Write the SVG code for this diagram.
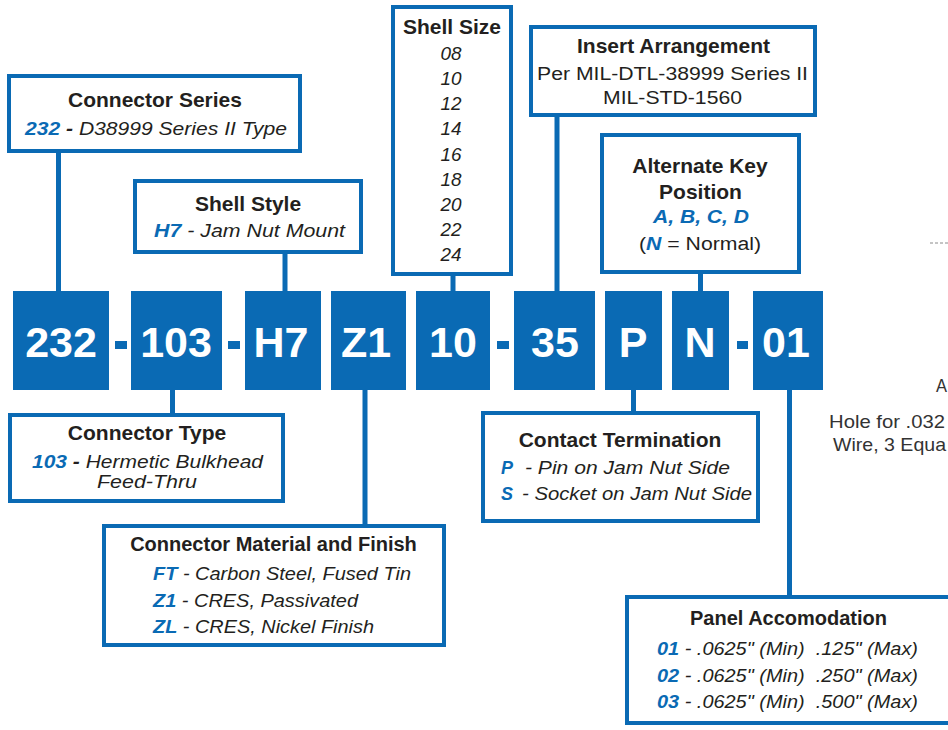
<svg xmlns="http://www.w3.org/2000/svg" width="948" height="730" viewBox="0 0 948 730">
<style>
.t{font-family:"Liberation Sans",Arial,Helvetica,sans-serif;fill:#231f20}
.h{font-weight:bold;font-size:21px;text-anchor:middle}
.h20{font-size:20px}
.i{font-style:italic;font-size:18px}
.r{font-size:18px}
.bl{fill:#0a6ab4;font-weight:bold;font-style:italic}
.bd{font-weight:bold}
.box{fill:#ffffff;stroke:#0a6ab4;stroke-width:4}
.code{fill:#0a6ab4}
.ct{font-family:"Liberation Sans",Arial,Helvetica,sans-serif;fill:#ffffff;font-weight:bold;font-size:43px;text-anchor:middle}
.ln{stroke:#0a6ab4;stroke-width:5;fill:none}
.pre{white-space:pre}
.side{font-family:"Liberation Sans",Arial,Helvetica,sans-serif;fill:#333333;font-size:18.5px}
</style>
<rect width="948" height="730" fill="#ffffff"/>

<g id="connectors">
<line class="ln" x1="58.5" y1="152" x2="58.5" y2="292"/>
<line class="ln" x1="285" y1="253" x2="285" y2="292"/>
<line class="ln" x1="453" y1="275" x2="453" y2="292"/>
<line class="ln" x1="557" y1="116" x2="557" y2="292"/>
<line class="ln" x1="700.5" y1="273" x2="700.5" y2="292"/>
<line class="ln" x1="172.5" y1="389" x2="172.5" y2="414"/>
<line class="ln" x1="365" y1="389" x2="365" y2="525"/>
<line class="ln" x1="633.5" y1="389" x2="633.5" y2="412"/>
<line class="ln" x1="789.5" y1="389" x2="789.5" y2="598"/>
</g>

<g id="code">
<rect class="code" x="13" y="291" width="96" height="99"/>
<text class="ct" x="61" y="357">232</text>
<rect class="code" x="115" y="341" width="12" height="8"/>
<rect class="code" x="131" y="291" width="91" height="99"/>
<text class="ct" x="176" y="357">103</text>
<rect class="code" x="228" y="341" width="12" height="8"/>
<rect class="code" x="245" y="291" width="76" height="99"/>
<text class="ct" x="281" y="357">H7</text>
<rect class="code" x="331" y="291" width="75" height="99"/>
<text class="ct" x="366" y="357">Z1</text>
<rect class="code" x="416" y="291" width="74" height="99"/>
<text class="ct" x="453" y="357">10</text>
<rect class="code" x="497" y="341" width="12" height="8"/>
<rect class="code" x="514" y="291" width="81" height="99"/>
<text class="ct" x="555" y="357">35</text>
<rect class="code" x="605" y="291" width="57" height="99"/>
<text class="ct" x="633" y="357">P</text>
<rect class="code" x="672" y="291" width="57" height="99"/>
<text class="ct" x="700" y="357">N</text>
<rect class="code" x="737" y="341" width="11" height="8"/>
<rect class="code" x="753" y="291" width="70" height="99"/>
<text class="ct" x="786" y="357">01</text>
</g>

<g id="connector-series">
<rect class="box" x="9" y="76" width="291" height="75"/>
<text class="t h" x="155" y="107">Connector Series</text>
<text class="t i" x="25" y="135" textLength="262" lengthAdjust="spacingAndGlyphs"><tspan class="bl">232</tspan><tspan class="bd"> - </tspan>D38999 Series II Type</text>
</g>

<g id="shell-style">
<rect class="box" x="135" y="181" width="226" height="71"/>
<text class="t h" x="248" y="211">Shell Style</text>
<text class="t i" x="154" y="237" textLength="191" lengthAdjust="spacingAndGlyphs"><tspan class="bl">H7</tspan> - Jam Nut Mount</text>
</g>

<g id="shell-size">
<rect class="box" x="393" y="7" width="118" height="267"/>
<text class="t h" x="452" y="34">Shell Size</text>
<g class="t i" text-anchor="middle">
<text x="451" y="60" textLength="21" lengthAdjust="spacingAndGlyphs">08</text>
<text x="451" y="85" textLength="21" lengthAdjust="spacingAndGlyphs">10</text>
<text x="451" y="110" textLength="21" lengthAdjust="spacingAndGlyphs">12</text>
<text x="451" y="135" textLength="21" lengthAdjust="spacingAndGlyphs">14</text>
<text x="451" y="161" textLength="21" lengthAdjust="spacingAndGlyphs">16</text>
<text x="451" y="186" textLength="21" lengthAdjust="spacingAndGlyphs">18</text>
<text x="451" y="211" textLength="21" lengthAdjust="spacingAndGlyphs">20</text>
<text x="451" y="236" textLength="21" lengthAdjust="spacingAndGlyphs">22</text>
<text x="451" y="261" textLength="21" lengthAdjust="spacingAndGlyphs">24</text>
</g>
</g>

<g id="insert-arrangement">
<rect class="box" x="531" y="27" width="284" height="88"/>
<text class="t h" x="673.5" y="53">Insert Arrangement</text>
<text class="t r" x="537" y="80" textLength="271" lengthAdjust="spacingAndGlyphs">Per MIL-DTL-38999 Series II</text>
<text class="t r" x="603" y="104" textLength="139" lengthAdjust="spacingAndGlyphs">MIL-STD-1560</text>
</g>

<g id="alternate-key">
<rect class="box" x="602" y="135" width="197" height="137"/>
<text class="t h" x="700" y="173">Alternate Key</text>
<text class="t h" x="700.5" y="199">Position</text>
<text class="t i bl" x="653" y="223" textLength="96" lengthAdjust="spacingAndGlyphs">A, B, C, D</text>
<text class="t r" x="639" y="250" textLength="122" lengthAdjust="spacingAndGlyphs">(<tspan class="bl">N</tspan> = Normal)</text>
</g>

<g id="connector-type">
<rect class="box" x="10" y="415" width="273" height="86"/>
<text class="t h" x="147" y="440">Connector Type</text>
<text class="t i" x="32" y="468" textLength="231" lengthAdjust="spacingAndGlyphs"><tspan class="bl">103</tspan><tspan class="bd"> - </tspan>Hermetic Bulkhead</text>
<text class="t i" x="97" y="488" textLength="100" lengthAdjust="spacingAndGlyphs">Feed-Thru</text>
</g>

<g id="material-finish">
<rect class="box" x="104" y="526" width="340" height="119"/>
<text class="t h h20" x="273.5" y="551">Connector Material and Finish</text>
<text class="t i" x="153" y="580" textLength="258" lengthAdjust="spacingAndGlyphs"><tspan class="bl">FT</tspan> - Carbon Steel, Fused Tin</text>
<text class="t i" x="153" y="607" textLength="205" lengthAdjust="spacingAndGlyphs"><tspan class="bl">Z1</tspan> - CRES, Passivated</text>
<text class="t i" x="153" y="633" textLength="221" lengthAdjust="spacingAndGlyphs"><tspan class="bl">ZL</tspan> - CRES, Nickel Finish</text>
</g>

<g id="contact-termination">
<rect class="box" x="483" y="413" width="275" height="108"/>
<text class="t h" x="620" y="447">Contact Termination</text>
<text class="t i bl" x="501" y="474">P</text>
<text class="t i" x="525" y="474" textLength="205" lengthAdjust="spacingAndGlyphs">- Pin on Jam Nut Side</text>
<text class="t i bl" x="501" y="500">S</text>
<text class="t i" x="522" y="500" textLength="230" lengthAdjust="spacingAndGlyphs">- Socket on Jam Nut Side</text>
</g>

<g id="panel-accomodation">
<rect class="box" x="627" y="597" width="340" height="126"/>
<text class="t h h20" x="788.5" y="625">Panel Accomodation</text>
<text class="t i pre" x="657" y="655" textLength="261" lengthAdjust="spacingAndGlyphs"><tspan class="bl">01</tspan> - .0625" (Min)  .125" (Max)</text>
<text class="t i pre" x="657" y="682" textLength="261" lengthAdjust="spacingAndGlyphs"><tspan class="bl">02</tspan> - .0625" (Min)  .250" (Max)</text>
<text class="t i pre" x="657" y="708" textLength="261" lengthAdjust="spacingAndGlyphs"><tspan class="bl">03</tspan> - .0625" (Min)  .500" (Max)</text>
</g>

<g id="edge-fragment">
<line x1="930" y1="243" x2="948" y2="243" stroke="#8a8a8a" stroke-width="1" stroke-dasharray="3 2"/>
<text class="side" x="936" y="392" textLength="11" lengthAdjust="spacingAndGlyphs">A</text>
<text class="side" x="829" y="428" textLength="116" lengthAdjust="spacingAndGlyphs">Hole for .032</text>
<text class="side" x="833" y="451" textLength="113" lengthAdjust="spacingAndGlyphs">Wire, 3 Equa</text>
</g>
</svg>
